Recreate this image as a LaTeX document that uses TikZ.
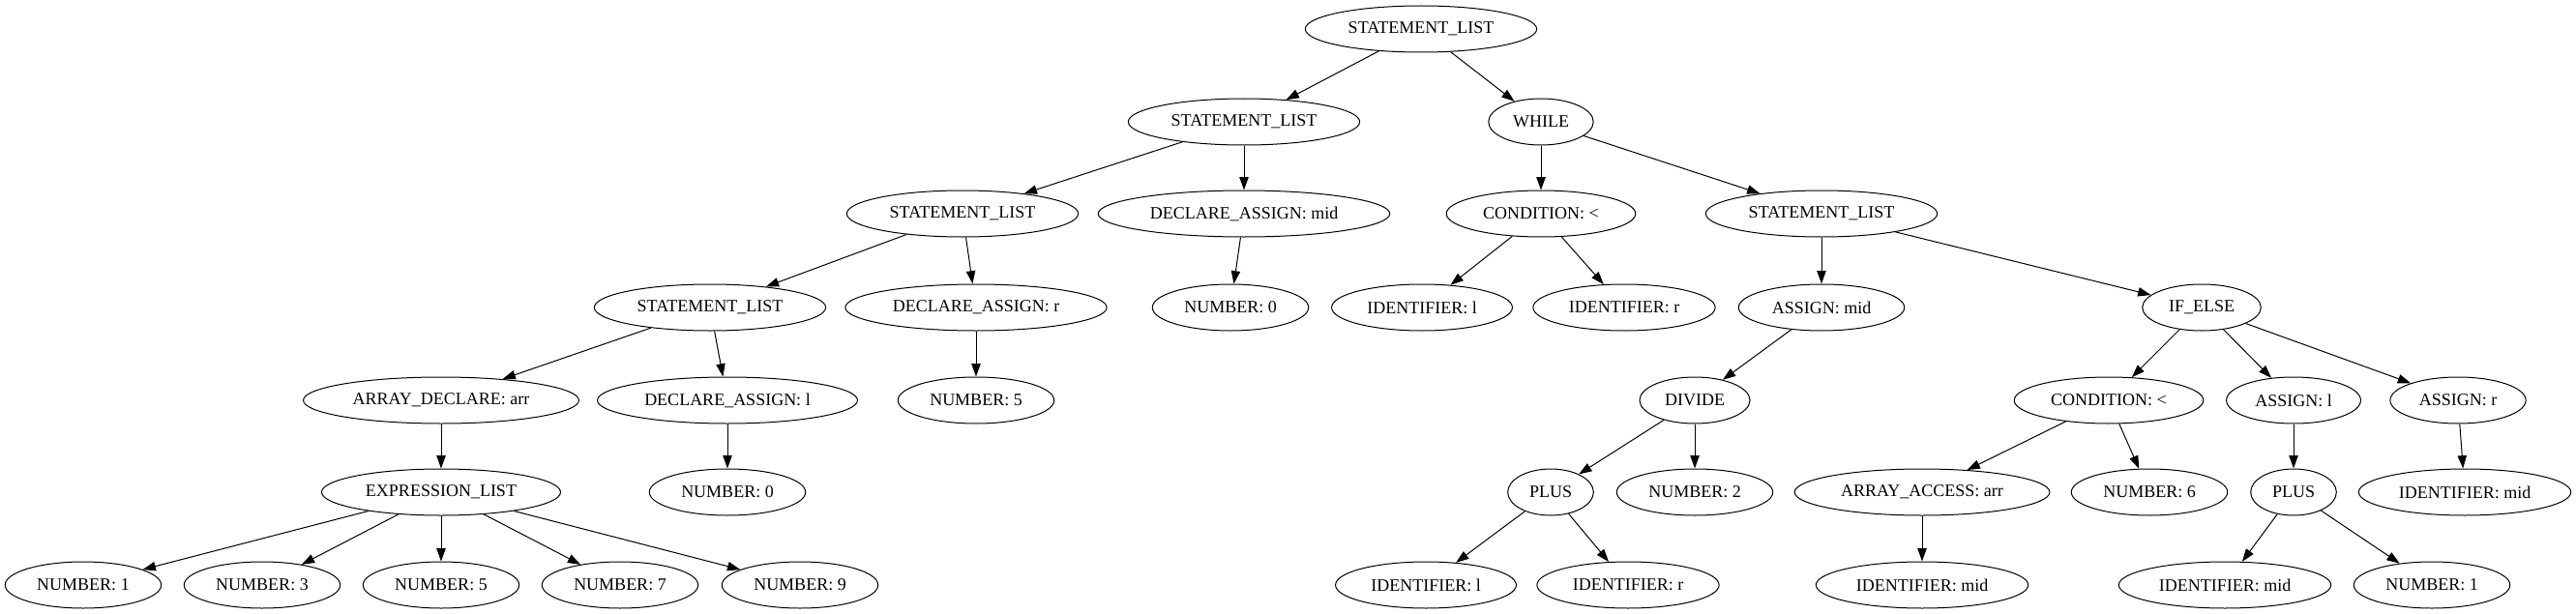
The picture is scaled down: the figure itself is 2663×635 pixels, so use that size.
\documentclass[tikz,border=0pt]{standalone}
\usepackage{fontspec}
\setmainfont{Liberation Serif}
\usepackage{tikz}
\usetikzlibrary{shapes.geometric,arrows.meta}

\begin{document}
\begin{tikzpicture}[x=0.75pt, y=-0.75pt,
	astnode/.style={draw, ellipse, line width=0.75pt, inner xsep=7pt, inner ysep=2pt, minimum height=36pt, minimum width=54pt, font=\fontsize{13.5}{16}\selectfont},
	edge/.style={line width=0.75pt, -{Triangle[length=10pt, width=7pt]}}]
	\useasboundingbox (0,0) rectangle (2663,635);

	% level 1 to 3
	\node[astnode] (root) at (1469,30) {STATEMENT\_LIST};
	\node[astnode] (stmtb) at (1286,126) {STATEMENT\_LIST};
	\node[astnode] (while) at (1593,126) {WHILE};
	\node[astnode] (stmtc) at (995,221) {STATEMENT\_LIST};
	\node[astnode] (declmid) at (1286,221) {DECLARE\_ASSIGN: mid};
	\node[astnode] (condw) at (1593,221) {CONDITION: <};
	\node[astnode] (stmtw) at (1883,221) {STATEMENT\_LIST};

	% level 4
	\node[astnode] (stmtd) at (734,318) {STATEMENT\_LIST};
	\node[astnode] (declr) at (1009,318) {DECLARE\_ASSIGN: r};
	\node[astnode] (nummid) at (1272,318) {NUMBER: 0};
	\node[astnode] (idlw) at (1470,318) {IDENTIFIER: l};
	\node[astnode] (idrw) at (1679,318) {IDENTIFIER: r};
	\node[astnode] (asgmid) at (1883,318) {ASSIGN: mid};
	\node[astnode] (ifelse) at (2276,318) {IF\_ELSE};

	% level 5
	\node[astnode] (arrdecl) at (456,414) {ARRAY\_DECLARE: arr};
	\node[astnode] (decll) at (752,414) {DECLARE\_ASSIGN: l};
	\node[astnode] (numr) at (1009,414) {NUMBER: 5};
	\node[astnode] (divide) at (1752,414) {DIVIDE};
	\node[astnode] (condif) at (2180,414) {CONDITION: <};
	\node[astnode] (asgl) at (2371,414) {ASSIGN: l};
	\node[astnode] (asgr) at (2541,414) {ASSIGN: r};

	% level 6
	\node[astnode] (exprlist) at (456,509) {EXPRESSION\_LIST};
	\node[astnode] (numl) at (752,509) {NUMBER: 0};
	\node[astnode] (plusa) at (1603,509) {PLUS};
	\node[astnode] (numtwo) at (1752,509) {NUMBER: 2};
	\node[astnode] (arracc) at (1987,509) {ARRAY\_ACCESS: arr};
	\node[astnode] (numsix) at (2222,509) {NUMBER: 6};
	\node[astnode] (plusb) at (2371,509) {PLUS};
	\node[astnode] (idmidr) at (2548,509) {IDENTIFIER: mid};

	% level 7
	\node[astnode] (elema) at (86,605) {NUMBER: 1};
	\node[astnode] (elemb) at (271,605) {NUMBER: 3};
	\node[astnode] (elemc) at (456,605) {NUMBER: 5};
	\node[astnode] (elemd) at (641,605) {NUMBER: 7};
	\node[astnode] (eleme) at (827,605) {NUMBER: 9};
	\node[astnode] (idlp) at (1474,605) {IDENTIFIER: l};
	\node[astnode] (idrp) at (1683,605) {IDENTIFIER: r};
	\node[astnode] (idmida) at (1987,605) {IDENTIFIER: mid};
	\node[astnode] (idmidp) at (2300,605) {IDENTIFIER: mid};
	\node[astnode] (numone) at (2514,605) {NUMBER: 1};

	\foreach \from/\to in {root/stmtb, root/while, stmtb/stmtc, stmtb/declmid, while/condw, while/stmtw,
		stmtc/stmtd, stmtc/declr, declmid/nummid, condw/idlw, condw/idrw, stmtw/asgmid, stmtw/ifelse,
		stmtd/arrdecl, stmtd/decll, declr/numr, asgmid/divide, ifelse/condif, ifelse/asgl, ifelse/asgr,
		arrdecl/exprlist, decll/numl, divide/plusa, divide/numtwo, condif/arracc, condif/numsix, asgl/plusb, asgr/idmidr,
		exprlist/elema, exprlist/elemb, exprlist/elemc, exprlist/elemd, exprlist/eleme,
		plusa/idlp, plusa/idrp, arracc/idmida, plusb/idmidp, plusb/numone}
		\draw[edge] (\from) -- (\to);

\end{tikzpicture}
\end{document}
